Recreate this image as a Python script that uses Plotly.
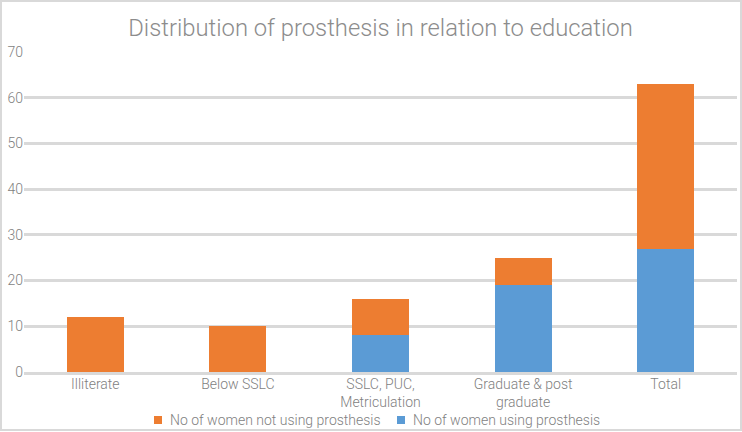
import plotly.graph_objects as go

categories = ["Illiterate", "Below SSLC", "SSLC, PUC,<br>Metriculation", "Graduate & post<br>graduate", "Total"]
using = [0, 0, 8, 19, 27]
not_using = [12, 10, 8, 6, 36]
y_ticks = [0, 10, 20, 30, 40, 50, 60, 70]
series_names = ["No of women not using prosthesis", "No of women using prosthesis"]
series_colors = ["#ed7d31", "#5b9bd5"]

W, H = 742, 432
L, R, T, B = 24, 5, 52, 60
pw, ph = W - L - R, H - T - B


def px_x(p):
    return (p - L) / pw


def px_y(p):
    return (T + ph - p) / ph


fig = go.Figure()
fig.add_trace(go.Bar(x=categories, y=using, name=series_names[1],
                     marker=dict(color=series_colors[1], line=dict(width=0)), showlegend=False))
fig.add_trace(go.Bar(x=categories, y=not_using, name=series_names[0],
                     marker=dict(color=series_colors[0], line=dict(width=0)), showlegend=False))

# custom legend (small squares + labels), positioned like the reference
legend_sq_x = [154, 397]
legend_txt_x = [168, 411]
legend_y = 420
shapes = [dict(type="rect", xref="paper", yref="paper",
               x0=px_x(1), x1=px_x(W - 1), y0=px_y(H - 2), y1=px_y(1),
               line=dict(color="#d9d9d9", width=2), layer="below")]
annotations = []
for name, col, sx, tx in zip(series_names, series_colors, legend_sq_x, legend_txt_x):
    shapes.append(dict(type="rect", xref="paper", yref="paper",
                       x0=px_x(sx), x1=px_x(sx + 8), y0=px_y(legend_y + 4), y1=px_y(legend_y - 4),
                       fillcolor=col, line=dict(width=0)))
    annotations.append(dict(text=name, xref="paper", yref="paper", x=px_x(tx), y=px_y(legend_y),
                            xanchor="left", yanchor="middle", showarrow=False,
                            font=dict(size=14, color="#7f7f7f", weight=300)))

fig.update_layout(
    width=W, height=H,
    barmode="stack", bargap=0.6,
    margin=dict(l=L, r=R, t=T, b=B, autoexpand=False),
    paper_bgcolor="white", plot_bgcolor="white",
    font=dict(family="Roboto, sans-serif", color="#7f7f7f", size=14, weight=300),
    showlegend=False,
    title=dict(text="Distribution of prosthesis in relation to education",
               x=0.5, xref="paper", xanchor="center", y=1 - 28 / H, yanchor="middle",
               font=dict(size=23.8, color="#8c8c8c", weight=300)),
    xaxis=dict(showgrid=False, showline=True, linecolor="#d9d9d9", linewidth=3,
               tickfont=dict(size=14, color="#7f7f7f", weight=300), ticks="",
               ticklabelstandoff=-3, automargin=False),
    yaxis=dict(range=[0, 70], tickvals=y_ticks, showgrid=True, gridcolor="#d9d9d9",
               gridwidth=3, zeroline=False, showline=False, ticks="", automargin=False,
               tickfont=dict(size=14, color="#7f7f7f", weight=300)),
    shapes=shapes,
    annotations=annotations,
)

fig.write_html("out.html", config={"displayModeBar": False},
               post_script="document.body.style.margin='0';document.body.style.overflow='hidden';")
